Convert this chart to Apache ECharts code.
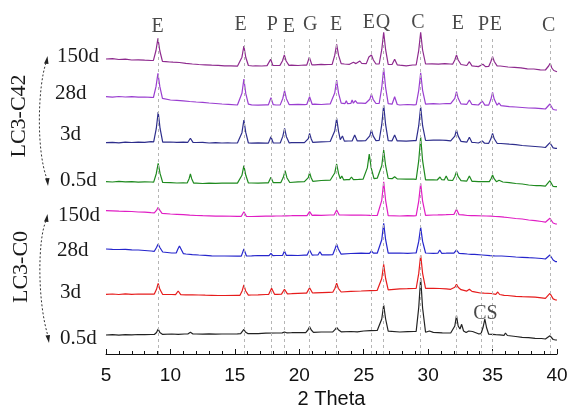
<!DOCTYPE html>
<html>
<head>
<meta charset="utf-8">
<script src="https://cdn.jsdelivr.net/npm/echarts@6/dist/echarts.min.js"></script>
<style>html,body{margin:0;padding:0;background:#fff}#c{width:571px;height:408px}</style>
</head>
<body>
<div id="c"></div>
<script>
// ---- DATA (2θ, relative intensity) ----
const sampleNames = ['LC3-C42 150d','LC3-C42 28d','LC3-C42 3d','LC3-C42 0.5d','LC3-C0 150d','LC3-C0 28d','LC3-C0 3d','LC3-C0 0.5d'];
const dayLabels = ['150d','28d','3d','0.5d','150d','28d','3d','0.5d'];
const groupLabels = ['LC3-C42','LC3-C0'];
const stackOffsets = [295, 257.3, 211.3, 172.3, 143.3, 105, 59.7, 19];

const base1 = [[5,0],[5.5,0.3],[6,-0.5],[6.5,-0.2],[7,-1],[7.5,-0.8],[8,-1.2],[8.5,-1.5],[9.5,-2.5],[10.2,-3.2],[10.7,-3.5],[11.2,-4.3],[11.7,-5],[12.2,-5.5],[12.7,-5.8],[13.2,-6.2],[13.7,-6.3],[14.2,-6.8],[14.7,-6.9],[15.2,-7.2],[16.6,-6.8],[17.1,-7],[17.5,-6.6],[18.2,-6.5],[19.4,-6.2],[19.9,-6.5],[20.4,-6],[21.2,-5.8],[21.7,-5.3],[22.4,-5.6],[23.5,-5],[23.9,-5.3],[25,-4.5],[26.05,-5],[27.8,-6.2],[28.3,-6.8],[28.8,-6],[29.95,-5],[30.3,-4.8],[30.8,-5.2],[31.3,-4.6],[31.7,-5],[32.7,-6],[33.6,-7.2],[33.9,-7.6],[35.7,-6.5],[36.2,-8],[36.7,-8.3],[37.2,-8.8],[37.7,-9.8],[38.2,-10],[38.7,-10.8],[39.1,-11],[39.9,-12],[40,-12.7]];
const peaks1 = [
 [[8.68,-1.3],[8.88,8.5],[9.03,20.7],[9.18,8],[9.38,-2.4]],
 [[9.65,-2.6],[9.8,-1.3],[9.95,-3]],
 [[15.35,-7.2],[15.55,1.8],[15.7,13],[15.85,1.5],[16.05,-6.5],[16.2,-5.5],[16.4,-7]],
 [[17.6,-6.7],[17.78,-0.3],[17.95,-6.5]],
 [[18.5,-6.4],[18.7,-1.7],[18.84,4],[18.98,-2],[19.2,-6.3]],
 [[20.58,-6.1],[20.78,1.7],[20.98,-5.9]],
 [[21.95,-5.6],[22.1,-4],[22.25,-5.5]],
 [[22.55,-5.4],[22.75,3.6],[22.9,14.7],[23.05,3.6],[23.25,-4.6]],
 [[24.05,-4.9],[24.2,-3.3],[24.4,-4.6],[24.7,-2],[24.85,-4.5]],
 [[25.2,-4.6],[25.4,2],[25.5,1],[25.6,4],[25.75,-1],[25.95,-5]],
 [[26.2,-5],[26.4,9.3],[26.55,26.7],[26.7,9.3],[26.9,-5.3]],
 [[27.2,-5.5],[27.4,-0.3],[27.6,-5.8]],
 [[29.07,-6],[29.27,8.7],[29.42,26.7],[29.57,9],[29.8,-5]],
 [[31.9,-5.2],[32.07,-1],[32.2,4],[32.33,-1],[32.55,-5.5]],
 [[33.0,-6.5],[33.2,-2.7],[33.4,-6.9]],
 [[34.05,-7.6],[34.25,-5.3],[34.45,-7.6]],
 [[34.7,-7.5],[34.87,-2.5],[35.0,2.3],[35.13,-2.5],[35.35,-6.8],[35.5,-6],[35.6,-7]],
 [[39.2,-11],[39.35,-7],[39.47,-4.3],[39.6,-9],[39.75,-11.5]]
];

const base2 = [[5,0],[5.5,-0.4],[6,0.2],[6.5,-0.3],[7,0],[7.5,-0.5],[8,-0.3],[8.5,-0.6],[9.5,-2],[10,-3.3],[10.5,-3.6],[11,-4.2],[11.5,-4.8],[12,-5.3],[12.5,-5.6],[13,-6.3],[13.5,-6.8],[14,-7.3],[14.5,-7.6],[15.2,-8.3],[16.3,-8.1],[16.8,-8.5],[17.4,-8.2],[18.2,-8.3],[19.4,-8],[19.9,-7.6],[20.4,-8],[21.2,-7.5],[21.7,-7.8],[22.4,-7.2],[23.4,-6.8],[23.8,-7],[24.8,-6.5],[25.15,-6.6],[26.05,-6.8],[27.8,-8.3],[28.4,-7.8],[28.9,-8.1],[29.95,-7.5],[30.4,-7],[30.9,-7.3],[31.4,-6.8],[31.75,-7],[32.7,-7.3],[33.6,-8],[33.9,-8.3],[35.8,-9.3],[36.3,-10],[36.8,-10.3],[37.3,-10.8],[37.8,-11.3],[38.3,-11.5],[38.8,-12],[39.1,-12.3],[39.9,-13.3],[40,-13.3]];
const peaks2 = [
 [[8.68,-0.8],[8.88,10],[9.03,23.4],[9.18,10],[9.38,-1.7]],
 [[15.35,-8.3],[15.55,3.4],[15.7,17.7],[15.85,3],[16.05,-7.5]],
 [[17.6,-8.2],[17.8,-1],[17.98,-8]],
 [[18.52,-8.2],[18.72,-1.8],[18.86,6],[19.0,-2],[19.22,-8]],
 [[20.58,-7.8],[20.8,0],[21.0,-7.6]],
 [[22.55,-7.2],[22.75,3.6],[22.9,16.7],[23.05,3.3],[23.25,-6.5]],
 [[23.55,-6.9],[23.65,-4],[23.75,-7]],
 [[24.0,-6.8],[24.1,-3.3],[24.2,-6.5],[24.35,-4],[24.5,-6.5]],
 [[25.3,-6.6],[25.47,-2.6],[25.6,2.4],[25.73,-2.6],[25.95,-6.8]],
 [[26.2,-6.8],[26.4,9],[26.55,28.4],[26.7,9],[26.9,-7]],
 [[27.2,-7.5],[27.4,0],[27.6,-7.8]],
 [[29.07,-8],[29.27,6.4],[29.42,24],[29.57,6.4],[29.8,-7.5]],
 [[31.9,-7],[32.07,-1.6],[32.2,5],[32.33,-1.6],[32.55,-7.2]],
 [[33.0,-7.6],[33.2,-3.3],[33.4,-7.8]],
 [[34.02,-8.3],[34.2,-4.3],[34.4,-8.4]],
 [[34.7,-8.4],[34.87,-2.6],[35.0,4.4],[35.13,-2.6],[35.35,-8.5],[35.5,-6.3],[35.65,-9]],
 [[39.2,-12.4],[39.45,-7.3],[39.7,-12.8]]
];

const base3 = [[5,0],[5.5,0.4],[6,-0.2],[6.5,0.5],[7,0.2],[7.5,0.6],[8,0.4],[8.5,1],[9.5,0.5],[10,0.7],[10.5,0.3],[11,0.5],[12,0.2],[12.5,0.4],[13,-0.3],[13.5,0],[14,-0.3],[15.2,-0.3],[16.3,-0.5],[16.8,-0.2],[17.4,-0.4],[18.2,-0.3],[19.4,0],[19.9,0.2],[20.4,0],[21.2,0.6],[21.7,0.9],[22.4,1.2],[23.8,1.7],[24.8,1.8],[25.15,2],[26.05,2.2],[27.8,1.8],[28.3,1.5],[28.9,2],[29.95,2.2],[30.4,2.5],[30.9,2.7],[31.4,2.3],[31.75,1.8],[32.7,1],[33.6,0.2],[33.9,-0.3],[35.8,-1],[36.3,-1.5],[36.8,-2],[37.3,-2.8],[37.8,-3.3],[38.3,-3.8],[38.8,-4.3],[39.1,-4.8],[39.9,-5.6],[40,-5.6]];
const peaks3 = [
 [[8.7,0.8],[8.9,14],[9.05,30.7],[9.2,14],[9.4,0.6]],
 [[11.35,0.4],[11.55,4.4],[11.75,0.3]],
 [[14.45,-0.2],[14.6,1.7],[14.75,-0.3]],
 [[15.35,-0.3],[15.55,10],[15.7,22.7],[15.85,10],[16.05,-0.3]],
 [[17.6,-0.4],[17.8,6],[17.98,-0.3]],
 [[18.52,-0.3],[18.72,6.3],[18.86,14.4],[19.0,6],[19.22,-0.2]],
 [[20.55,0],[20.7,4],[20.8,9.4],[20.92,4],[21.05,0.3]],
 [[22.55,1.1],[22.75,11.6],[22.9,24.4],[23.05,11],[23.18,3],[23.35,6.7],[23.5,1.6]],
 [[24.1,1.7],[24.3,7.7],[24.5,1.8]],
 [[25.3,2],[25.47,6.8],[25.6,12.7],[25.73,6.8],[25.95,2.1]],
 [[26.2,2.2],[26.4,18],[26.55,37.7],[26.7,18],[26.9,2]],
 [[27.2,1.9],[27.4,7.7],[27.6,1.8]],
 [[29.07,2],[29.27,17],[29.42,36],[29.57,17],[29.8,2.2]],
 [[31.9,1.6],[32.07,6.6],[32.2,12.7],[32.33,6.6],[32.55,1.3]],
 [[33.0,0.5],[33.2,5.4],[33.4,0.3]],
 [[34.02,-0.4],[34.2,1.7],[34.38,-0.5]],
 [[34.7,-0.6],[34.87,3.9],[35.0,9.4],[35.13,3.9],[35.35,-0.6],[35.5,0.8],[35.65,-0.8]],
 [[39.2,-4.9],[39.45,0],[39.7,-5.2]]
];

const base4 = [[5,0],[5.5,-0.3],[6,0.3],[6.5,-0.2],[7,0],[7.5,-0.5],[8,-0.2],[8.5,-0.3],[9.5,-0.8],[10,-1],[10.5,-1.3],[11,-1.2],[12,-1.5],[12.5,-1.8],[13,-1.4],[13.5,-1.6],[14,-1.5],[15.2,-1.4],[16.3,-1.3],[16.8,-1.5],[17.4,-1.1],[18.2,-1],[19.4,-0.6],[19.9,-0.2],[20.4,0],[21.2,0.8],[21.7,1.2],[22.4,1.5],[23.7,2],[24.6,2.3],[24.95,2.5],[26.05,3.5],[27.8,2.7],[28.3,2.5],[28.9,2.5],[29.95,1.7],[30.4,1.9],[30.7,1.7],[31.7,1.5],[32.7,0.8],[33.6,0.3],[33.9,0],[34.4,0.2],[35.8,-0.3],[36.3,-1],[36.8,-1.8],[37.3,-2.3],[37.8,-3.3],[38.2,-3.8],[38.85,-4],[39.1,-4.5],[39.9,-5],[40,-5]];
const peaks4 = [
 [[8.7,-0.4],[8.9,8],[9.05,18.4],[9.2,8],[9.4,-0.8]],
 [[11.3,-1.3],[11.45,3],[11.55,7.7],[11.65,3],[11.8,-1.4]],
 [[15.35,-1.4],[15.55,6.4],[15.7,16],[15.85,6.4],[16.05,-1.3]],
 [[17.6,-1.1],[17.8,4.4],[17.98,-1]],
 [[18.56,-1],[18.76,4.4],[18.9,11],[19.04,4],[19.26,-0.8]],
 [[20.55,-0.1],[20.7,4],[20.8,9],[20.92,4],[21.05,0.4]],
 [[22.55,1.4],[22.75,8.7],[22.9,17.7],[23.05,8],[23.18,3],[23.3,5.7],[23.45,1.8]],
 [[23.9,2],[24.05,4.7],[24.2,2.1]],
 [[25.1,2.5],[25.28,13.8],[25.43,27.7],[25.58,13.8],[25.8,3]],
 [[26.2,3.5],[26.4,16],[26.55,31.7],[26.7,16],[26.9,3.2]],
 [[27.2,3],[27.4,5],[27.6,2.8]],
 [[29.07,2.2],[29.27,21],[29.42,44.7],[29.57,21],[29.8,1.8]],
 [[30.8,1.7],[30.92,4.7],[31.05,2],[31.25,1.8],[31.4,5.7],[31.55,1.6]],
 [[31.9,1.2],[32.07,5.2],[32.2,10],[32.33,5],[32.55,1]],
 [[33.0,0.6],[33.2,5.7],[33.4,0.4]],
 [[34.75,0.1],[34.88,3],[35.0,6.7],[35.12,3],[35.3,0],[35.5,1.4],[35.65,-0.2]],
 [[38.4,-3.9],[38.55,-2.8],[38.7,-4]],
 [[39.2,-4.6],[39.45,1],[39.7,-4.8]]
];

const base5 = [[5,0],[5.5,-0.2],[6,-0.5],[6.5,-0.6],[7,-0.8],[7.5,-1.3],[8,-1.5],[8.5,-2],[9.5,-2.8],[10,-3.3],[10.5,-3.6],[11,-4],[11.5,-4.5],[12,-4.8],[12.5,-5],[13,-5.1],[13.5,-5.4],[14,-5.3],[15.2,-5.6],[16.3,-5.8],[16.8,-5.6],[17.4,-5.5],[18.2,-5.3],[19.4,-5],[19.9,-4.8],[20.4,-5],[21.2,-4.5],[21.7,-4.6],[22.4,-4.3],[23.4,-4.3],[24,-4.5],[24.8,-4.3],[25.5,-4.6],[26.05,-4.8],[27,-5],[27.8,-5.3],[28.4,-5],[28.9,-5.1],[29.95,-4.5],[30.4,-4.3],[31.4,-4],[31.8,-3.8],[32.7,-4.2],[33.6,-5],[34.5,-5.3],[34.9,-5.5],[35.7,-6.2],[36.3,-7],[36.8,-7.8],[37.3,-8.3],[37.8,-9.3],[38.3,-10],[38.8,-10.8],[39.1,-11.5],[39.9,-13.3],[40,-13.3]];
const peaks5 = [
 [[8.75,-2.2],[8.93,0.5],[9.05,3.4],[9.17,0.5],[9.35,-2.6]],
 [[15.5,-5.6],[15.7,-1],[15.9,-5.7]],
 [[17.65,-5.5],[17.8,-4.3],[17.95,-5.4]],
 [[18.7,-5.2],[18.85,-3.6],[19.0,-5.1]],
 [[20.6,-4.9],[20.8,-1],[21.0,-4.7]],
 [[22.7,-4.3],[22.9,0.7],[23.1,-4.3]],
 [[26.2,-4.8],[26.4,10.4],[26.55,29],[26.7,10.4],[26.9,-5]],
 [[29.07,-5],[29.27,9.6],[29.42,27.4],[29.57,9.6],[29.8,-4.6]],
 [[30.75,-4.2],[30.9,-2.3],[31.05,-4.1]],
 [[32.0,-3.8],[32.2,1.4],[32.4,-4]],
 [[33.05,-4.8],[33.2,-3.3],[33.35,-5]],
 [[35.2,-5.8],[35.35,-4.5],[35.5,-6]],
 [[35.9,-6.5],[36.0,-5.3],[36.15,-6.8]],
 [[39.2,-11.7],[39.45,-7.6],[39.7,-12.3]]
];

const base6 = [[5,0],[5.5,-0.3],[6,-0.5],[6.5,-0.3],[7,-0.8],[7.5,-1],[8,-1.5],[8.5,-2],[9.5,-3.3],[10.1,-4],[11.2,-5],[11.7,-5.6],[12.2,-6],[12.7,-6.3],[13.2,-6.8],[13.7,-7],[14.2,-7],[15.2,-7.2],[16.3,-6.9],[16.8,-6.5],[17.4,-6.7],[18.2,-6.5],[19.4,-6.3],[19.9,-6.5],[20.4,-6.2],[21.2,-6],[22.3,-5.8],[23.4,-5],[24,-4.5],[24.8,-4.2],[25.2,-4.3],[26.05,-4.2],[27,-4.2],[27.8,-4],[28.4,-4.3],[28.9,-4],[29.95,-4],[30.4,-4.3],[31.4,-4.2],[31.8,-4],[32.7,-4.6],[33.6,-5.3],[34.2,-6],[34.8,-6.7],[35.7,-7],[36.3,-7.5],[36.8,-8],[37.3,-8.3],[37.8,-8.7],[38.3,-9],[38.8,-9.5],[39.1,-10],[39.9,-12.7],[40,-12.7]];
const peaks6 = [
 [[8.75,-2.3],[8.92,1.5],[9.05,5],[9.18,1.5],[9.4,-3]],
 [[10.45,-3.9],[10.58,0],[10.7,3],[10.82,0],[11.0,-4.6]],
 [[15.5,-7.1],[15.7,0],[15.9,-7]],
 [[17.65,-6.7],[17.8,-4.3],[17.95,-6.6]],
 [[18.7,-6.5],[18.85,-2],[19.0,-6.4]],
 [[20.6,-6.2],[20.8,-1],[21.0,-6.1]],
 [[21.45,-6],[21.6,-2.7],[21.75,-5.9]],
 [[22.6,-5.6],[22.77,0],[22.9,4.7],[23.03,0],[23.25,-5.2]],
 [[25.45,-4.3],[25.6,-2],[25.75,-4.2]],
 [[26.2,-4.2],[26.4,9.3],[26.55,25.7],[26.7,9.3],[26.9,-4.2]],
 [[29.07,-4],[29.27,7.6],[29.42,21.7],[29.57,7.6],[29.8,-4]],
 [[30.75,-4.2],[30.9,-1],[31.05,-4.3]],
 [[32.0,-4.1],[32.2,-1],[32.4,-4.4]],
 [[33.05,-5],[33.2,-4.3],[33.35,-5.3]],
 [[35.15,-6.9],[35.3,-5.8],[35.45,-7]],
 [[39.2,-10.2],[39.45,-6],[39.7,-11]]
];

const base7 = [[5,0],[5.5,0.3],[6,-0.2],[6.5,0.4],[7,0],[7.5,0.3],[8,0.1],[8.5,0.3],[9.5,-0.3],[10.1,-0.2],[11.2,-0.5],[11.7,-0.6],[12.2,-0.7],[12.7,-0.9],[13.2,-1],[13.7,-1.2],[14.2,-1.2],[15.2,-1],[16.3,-0.7],[16.8,-0.5],[17.4,-0.2],[18.3,0],[19.4,0.6],[19.9,1],[20.4,1.2],[21.2,1.5],[22.3,2],[23.4,2.5],[24,3],[24.8,3.3],[25.5,3.7],[26.05,4],[27,4.8],[27.8,5.5],[28.4,5.6],[28.9,5.8],[29.95,6],[30.4,6],[30.9,5.8],[31.4,5.5],[31.75,5],[32.7,4],[33.6,2.5],[34.5,1],[34.9,0.8],[35.7,-0.8],[36.3,-1.5],[36.8,-2],[37.3,-2.4],[37.8,-2.6],[38.3,-2.9],[38.8,-3.5],[39.1,-4],[39.9,-5.7],[40,-5.7]];
const peaks7 = [
 [[8.75,0.2],[8.92,5],[9.05,11],[9.18,5],[9.4,-0.2]],
 [[10.4,-0.3],[10.6,3.3],[10.8,-0.3]],
 [[15.4,-1],[15.57,3.6],[15.7,9.3],[15.83,3.6],[16.05,-0.8]],
 [[17.62,-0.2],[17.85,6],[18.08,0]],
 [[18.62,0.2],[18.85,5],[19.08,0.4]],
 [[20.57,1.2],[20.8,6.6],[21.03,1.3]],
 [[22.6,2.1],[22.77,6],[22.9,11],[23.03,6],[23.25,2.3]],
 [[26.2,4.1],[26.4,15.8],[26.55,30],[26.7,15.8],[26.9,4.4]],
 [[29.07,5.8],[29.27,20.9],[29.42,39.3],[29.57,21],[29.8,6]],
 [[31.9,4.8],[32.07,7],[32.2,10],[32.33,7],[32.55,4.6]],
 [[33.0,3.2],[33.2,5],[33.4,2.9]],
 [[34.05,1.3],[34.2,3.3],[34.35,1.1]],
 [[35.25,0],[35.4,2.3],[35.55,-0.2]],
 [[35.9,-1],[36.0,1],[36.15,-1.2]],
 [[39.2,-4.2],[39.45,1],[39.7,-4.6]]
];

const base8 = [[5,0],[5.5,0.3],[6,-0.2],[6.5,0.4],[7,0.2],[7.5,0.5],[8,0.3],[8.5,0.5],[9.5,0.6],[10.1,1],[10.6,0.7],[11.1,1],[12,1],[12.5,0.8],[13,1.2],[13.5,0.9],[14,1],[15.2,1.2],[16.3,1.5],[16.8,1.3],[17.4,1.8],[18.2,2],[19.4,2.3],[19.9,2.5],[20.3,2.3],[21.2,2.8],[21.7,3],[22.4,3],[23.4,3.3],[24,3.5],[24.5,3.2],[25,4],[25.5,4.3],[26.05,4.5],[27,3.5],[27.8,3],[28.4,3.3],[28.9,3.5],[30.4,2.6],[31.1,2.2],[31.75,2],[33.9,1.2],[34.8,0.5],[35.7,-0.2],[36.3,-0.8],[36.8,-1.5],[37.3,-2.3],[37.8,-2.7],[38.3,-3.3],[38.8,-3.5],[39.1,-4],[39.9,-5],[40,-5]];
const peaks8 = [
 [[8.75,0.5],[8.92,2.5],[9.05,6],[9.18,2.5],[9.4,0.6]],
 [[11.35,1],[11.55,2.7],[11.75,1]],
 [[15.45,1.3],[15.6,3],[15.7,5.7],[15.82,3],[16.0,1.4]],
 [[18.68,2.1],[18.85,3],[19.02,2.2]],
 [[20.5,2.4],[20.67,5],[20.8,8.3],[20.93,5],[21.1,2.6]],
 [[22.6,3.1],[22.77,5.3],[22.9,7.7],[23.03,5.3],[23.25,3.2]],
 [[26.2,4.4],[26.4,16],[26.55,30],[26.7,16],[26.9,3.8]],
 [[29.07,3.5],[29.27,27.5],[29.42,56.7],[29.57,27],[29.8,2.7]],
 [[29.95,2.5],[30.1,4],[30.25,2.4]],
 [[31.9,2],[32.07,9],[32.2,19.3],[32.33,9],[32.47,6],[32.6,10.7],[32.75,4],[32.95,2.5],[33.15,4],[33.3,5],[33.45,3.5],[33.6,1.5]],
 [[34.1,1.3],[34.27,8],[34.4,16],[34.53,7.5],[34.7,0.8]],
 [[35.25,0.3],[35.4,2],[35.55,0.1]],
 [[35.9,-0.3],[36.0,2],[36.15,-0.5]],
 [[39.2,-4.2],[39.45,-0.7],[39.7,-4.5]]
];

// reference lines (2θ) and phase letters
const refLines = [9.05, 15.7, 17.85, 18.85, 20.8, 22.9, 25.55, 26.55, 29.4, 32.2, 34.15, 35.0, 39.45];
const phaseX = [9.0, 15.45, 17.9, 19.2, 20.85, 22.85, 25.4, 26.5, 29.2, 32.3, 34.3, 35.25, 39.35, 34.45];
const phaseText = ['E','E','P','E','G','E','E','Q','C','E','P','E','C','CS'];

// ---- LAYOUT / STYLE ----
const colors = ['#8E2A8E','#9A3ED0','#2E2E8C','#1F8A1F','#E01EC4','#2626CC','#E61C1C','#222222'];
const phaseLevel = [327, 329, 329, 327, 329, 329, 331.5, 331.5, 331, 330, 329.5, 329.5, 328, 40];
const refTop = 316;

const bases = [base1,base2,base3,base4,base5,base6,base7,base8];
const peaksAll = [peaks1,peaks2,peaks3,peaks4,peaks5,peaks6,peaks7,peaks8];

function build(base, peaks, offset) {
  const ranges = peaks.map(g => [g[0][0], g[g.length-1][0]]);
  const pts = base.filter(p => !ranges.some(r => p[0] >= r[0] && p[0] <= r[1])).slice();
  peaks.forEach(g => g.forEach(p => pts.push(p)));
  pts.sort((a,b) => a[0]-b[0]);
  return pts.map(p => [p[0], p[1] + offset]);
}

const series = sampleNames.map((n,i) => ({
  name: n, type: 'line', data: build(bases[i], peaksAll[i], stackOffsets[i]),
  showSymbol: false, symbol: 'none', smooth: false, z: 3,
  lineStyle: {color: colors[i], width: 1.2}, silent: true
}));

series.push({
  type: 'line', data: [], silent: true, z: 1,
  markLine: {
    silent: true, symbol: 'none', animation: false,
    label: {show: false},
    lineStyle: {color: '#b5b5b5', type: [3,3], width: 1},
    data: refLines.map(x => [{coord: [x, 0]}, {coord: [x, refTop]}])
  }
});

series.push({
  type: 'scatter', silent: true, symbolSize: 1, z: 5,
  itemStyle: {color: 'rgba(0,0,0,0)'},
  label: {show: true, position: 'inside', formatter: p => p.name,
    fontFamily: 'Liberation Serif', fontSize: 20, color: '#1a1a1a'},
  data: phaseText.map((t,i) => ({name: t, value: [phaseX[i], phaseLevel[i]]}))
});

const dayPos = [[57,58],[55,95],[60,136],[60,182],[58,217],[57,252],[60,294],[60,340]];
const serifFont = '21px "Liberation Serif"';
const graphics = dayLabels.map((t,i) => ({
  type: 'text', left: dayPos[i][0], top: dayPos[i][1] - 12,
  style: {text: t, font: serifFont, fill: '#1a1a1a'}
}));
graphics.push({type:'text', x: 19, y: 116, rotation: Math.PI/2,
  style:{text: groupLabels[0], font: '22px "Liberation Serif"', fill:'#1a1a1a', align:'center', verticalAlign:'middle'}});
graphics.push({type:'text', x: 21, y: 267, rotation: Math.PI/2,
  style:{text: groupLabels[1], font: '22px "Liberation Serif"', fill:'#1a1a1a', align:'center', verticalAlign:'middle'}});
const dashStyle = {stroke:'#333', lineWidth:1, lineDash:[2,2], fill:null};
graphics.push({type:'bezierCurve', shape:{x1:46,y1:63,cpx1:38,cpy1:86,cpx2:36,cpy2:150,x2:47,y2:179}, style:dashStyle});
graphics.push({type:'bezierCurve', shape:{x1:46,y1:221,cpx1:38,cpy1:238,cpx2:37,cpy2:300,x2:48,y2:336}, style:dashStyle});
graphics.push({type:'polygon', shape:{points:[[47.5,56],[44,63.5],[48.5,64]]}, style:{fill:'#222'}});
graphics.push({type:'polygon', shape:{points:[[48,186],[45,178.5],[49.5,178]]}, style:{fill:'#222'}});
graphics.push({type:'polygon', shape:{points:[[47.5,214],[44,221.5],[48.5,222]]}, style:{fill:'#222'}});
graphics.push({type:'polygon', shape:{points:[[49,343],[45.5,335.5],[50,335]]}, style:{fill:'#222'}});

const chart = echarts.init(document.getElementById('c'), null, {renderer: 'canvas'});
chart.setOption({
  animation: false,
  backgroundColor: '#ffffff',
  grid: {left: 106, right: 14, top: 14, bottom: 54, containLabel: false, outerBoundsMode: 'none'},
  xAxis: {
    type: 'value', min: 5, max: 40, interval: 5,
    name: '2 Theta', nameLocation: 'middle', nameGap: 35,
    nameTextStyle: {fontFamily: 'Liberation Sans', fontSize: 20, color: '#111'},
    axisLine: {show: true, onZero: false, lineStyle: {color: '#111', width: 1}},
    axisTick: {show: true, inside: true, length: 5, lineStyle: {color: '#111'}},
    minorTick: {show: true, splitNumber: 5, length: 3, lineStyle: {color: '#111'}},
    axisLabel: {fontFamily: 'Liberation Sans', fontSize: 19, color: '#111', margin: 12},
    splitLine: {show: false}
  },
  yAxis: {type: 'value', min: 0, max: 340, show: false},
  graphic: graphics,
  series: series
});
</script>
</body>
</html>
